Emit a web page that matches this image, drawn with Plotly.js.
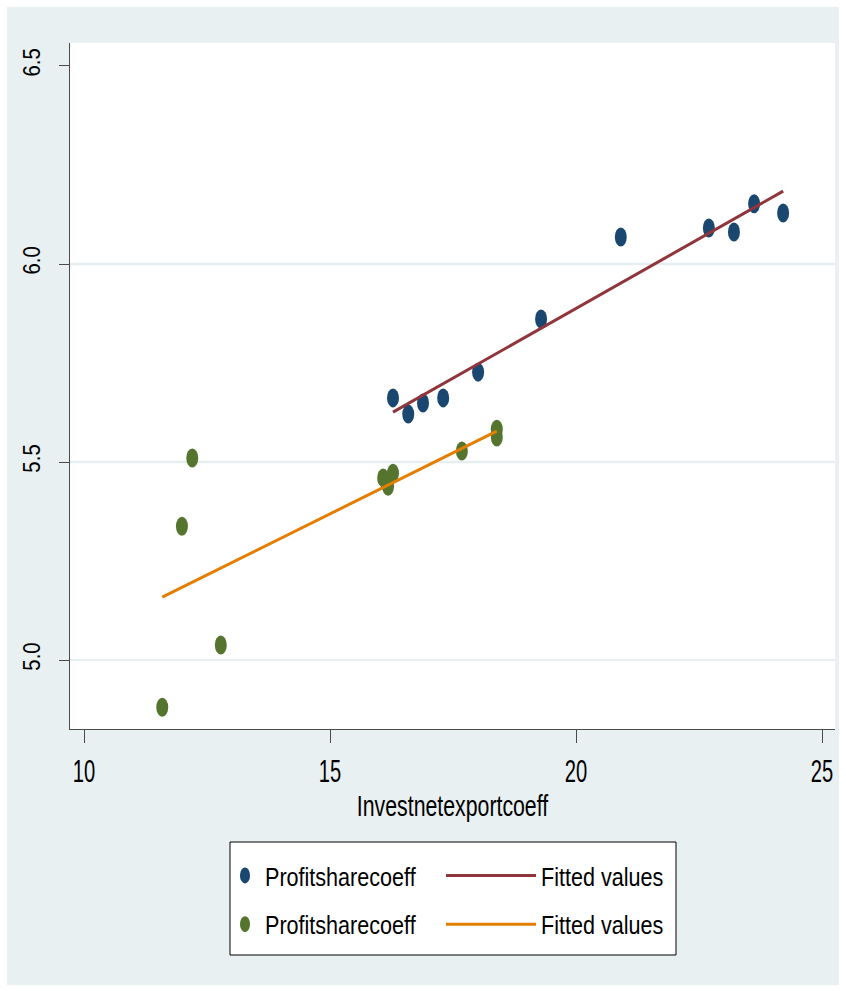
<!DOCTYPE html>
<html>
<head>
<meta charset="utf-8">
<script src="https://cdn.plot.ly/plotly-3.0.1.min.js"></script>
<style>
  html, body { margin: 0; padding: 0; background: #ffffff; }
  #chart { position: absolute; left: 7px; top: 7px; width: 832px; height: 978px; }
</style>
</head>
<body>
<div id="chart"></div>
<script>
// ---- data ----
const xBlue = [16.28, 16.59, 16.89, 17.30, 18.01, 19.29, 20.91, 22.70, 23.21, 23.62, 24.21];
const yBlue = [5.662, 5.621, 5.649, 5.662, 5.727, 5.861, 6.068, 6.091, 6.081, 6.152, 6.129];

const xGreen = [11.59, 11.99, 12.20, 12.78, 16.08, 16.28, 16.18, 17.68, 18.39, 18.39];
const yGreen = [4.881, 5.338, 5.510, 5.038, 5.460, 5.472, 5.439, 5.528, 5.583, 5.563];

const xFitBlue = [16.28, 24.21];
const yFitBlue = [5.626, 6.184];
const xFitGreen = [11.59, 18.39];
const yFitGreen = [5.159, 5.578];

const xTicks = [10, 15, 20, 25];
const yTicks = [5.0, 5.5, 6.0, 6.5];
const yTickText = ['5.0', '5.5', '6.0', '6.5'];
const gridVals = [5.0, 5.5, 6.0];

const seriesName = 'Profitsharecoeff';
const fitName = 'Fitted values';
const xTitle = 'Investnetexportcoeff';

// ---- styling ----
const FONT = '"Liberation Sans", Arial, sans-serif';
const BG = '#e9f0f2';
const GRID = '#e6eef1';
const AXIS = '#4a4a4a';

const traces = [
  { x: xBlue, y: yBlue, type: 'scatter', mode: 'markers', name: seriesName, legend: 'legend', legendgroup: 'a',
    marker: { color: '#1a476f', size: 19, line: { width: 0 } } },
  { x: xFitBlue, y: yFitBlue, type: 'scatter', mode: 'lines', name: fitName, legend: 'legend2', legendgroup: 'b',
    line: { color: '#90353b', width: 3 } },
  { x: xGreen, y: yGreen, type: 'scatter', mode: 'markers', name: seriesName, legend: 'legend', legendgroup: 'c',
    marker: { color: '#55752f', size: 19, line: { width: 0 } } },
  { x: xFitGreen, y: yFitGreen, type: 'scatter', mode: 'lines', name: fitName, legend: 'legend2', legendgroup: 'd',
    line: { color: '#e37e00', width: 3 } }
];

const shapes = gridVals.map(v => ({
  type: 'line', xref: 'paper', yref: 'y', x0: 0, x1: 1, y0: v, y1: v,
  line: { color: GRID, width: 2.5 }, layer: 'below'
}));
// legend frame
shapes.push({
  type: 'rect', xref: 'paper', yref: 'paper',
  x0: (230 - 70) / 765, x1: (676 - 70) / 765,
  y0: (729 - 955) / 686, y1: (729 - 842) / 686,
  fillcolor: '#ffffff', line: { color: '#000000', width: 1 }, layer: 'below'
});

const legendCommon = {
  bgcolor: 'rgba(0,0,0,0)', borderwidth: 0, orientation: 'v',
  font: { family: FONT, size: 26, color: '#000000' },
  tracegroupgap: 12, xanchor: 'left', yanchor: 'top'
};

const layout = {
  width: 832, height: 978,
  paper_bgcolor: BG, plot_bgcolor: '#ffffff',
  margin: { l: 63, r: 4, t: 36, b: 256 },
  font: { family: FONT, size: 26, color: '#000000' },
  showlegend: true,
  xaxis: {
    range: [9.715, 25.264], tickvals: xTicks, ticks: 'outside', ticklen: 13, tickwidth: 1, tickcolor: AXIS,
    showline: true, linecolor: AXIS, linewidth: 1.3, showgrid: false, zeroline: false,
    ticklabeloverflow: 'allow',
    tickfont: { family: FONT, size: 32, color: '#000000' },
    title: { text: xTitle, font: { family: FONT, size: 30, color: '#000000' }, standoff: 2 }
  },
  yaxis: {
    range: [4.826, 6.558], tickvals: yTicks, ticktext: yTickText, tickangle: -90,
    ticks: 'outside', ticklen: 10, tickwidth: 1, tickcolor: AXIS,
    showline: true, linecolor: AXIS, linewidth: 1.3, showgrid: false, zeroline: false,
    ticklabeloverflow: 'allow',
    tickfont: { family: FONT, size: 24, color: '#000000' }, ticklabelstandoff: 9
  },
  legend: Object.assign({}, legendCommon, { x: (225 - 70) / 765, y: (729 - 852) / 686 }),
  legend2: Object.assign({}, legendCommon, { x: (441 - 70) / 765, y: (729 - 852) / 686, itemwidth: 90 }),
  shapes: shapes
};

function narrow(nodes, s) {
  // condensed glyphs, scaled in each text's own frame around its anchor
  nodes.forEach(t => {
    const tr = t.getAttribute('transform') || '';
    if (tr.includes('scale(')) return;
    const x = parseFloat(t.getAttribute('x')) || 0;
    const y = parseFloat(t.getAttribute('y')) || 0;
    t.setAttribute('transform', tr + ` translate(${x},${y}) scale(${s},1) translate(${-x},${-y})`);
  });
}

function post(gd) {
  // Stata-style markers are drawn as upright ellipses
  gd.querySelectorAll('.scatterlayer path.point, .legendpoints path.scatterpts').forEach(p => {
    const tr = p.getAttribute('transform') || '';
    if (!tr.includes('scale(')) p.setAttribute('transform', tr + ' scale(0.63,1)');
  });
  narrow(gd.querySelectorAll('.xtick text'), 0.63);
  narrow(gd.querySelectorAll('.ytick text'), 0.85);
  narrow(gd.querySelectorAll('.g-xtitle text'), 0.71);
  narrow(gd.querySelectorAll('text[class*="legend"], [class^="legend"] text'), 0.83);
}

Plotly.newPlot('chart', traces, layout, { displayModeBar: false, staticPlot: true }).then(gd => {
  post(gd);
  gd.on('plotly_afterplot', () => post(gd));
  setTimeout(() => post(gd), 50);
  setTimeout(() => post(gd), 300);
});
</script>
</body>
</html>
